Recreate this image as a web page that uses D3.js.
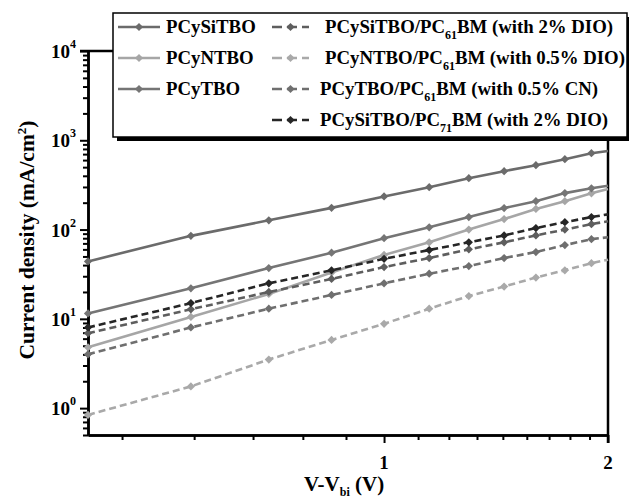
<!DOCTYPE html>
<html>
<head>
<meta charset="utf-8">
<script src="https://cdn.jsdelivr.net/npm/d3@7"></script>
<style>
  html, body { margin: 0; padding: 0; background: #fff; }
  svg { display: block; }
  text { font-family: "Liberation Serif", "Times New Roman", serif; font-weight: bold; fill: #000; }
</style>
</head>
<body>
<svg id="chart" width="629" height="500"></svg>
<script>
// ---------------- data ----------------
const xValues = [0.4, 0.55, 0.7, 0.85, 1.0, 1.15, 1.3, 1.45, 1.6, 1.75, 1.9, 2.0];
const pcySiTBO       = [44, 85, 127, 175, 235, 298, 376, 451, 526, 614, 717, 760];
const pcyNTBO        = [4.8, 10.5, 19, 33, 52, 72, 100, 131, 170, 208, 255, 285];
const pcyTBO         = [11.5, 22, 37, 55, 80, 106, 138, 174, 208, 256, 290, 310];
const pcySiTBO_PC61  = [6.9, 12.8, 20, 28, 38, 48, 60, 72, 86, 100, 115, 124];
const pcyNTBO_PC61   = [0.84, 1.75, 3.5, 5.8, 8.8, 13, 18, 23, 29, 35, 42, 46];
const pcyTBO_PC61    = [4.0, 8.0, 13, 18.5, 25, 32, 39, 48, 56, 67, 78, 82];
const pcySiTBO_PC71  = [8, 15, 25, 35, 47, 59, 72, 86, 104, 121, 138, 148];

const seriesNames = ["PCySiTBO", "PCyNTBO", "PCyTBO",
  "PCySiTBO/PC61BM (with 2% DIO)", "PCyNTBO/PC61BM (with 0.5% DIO)",
  "PCyTBO/PC61BM (with 0.5% CN)", "PCySiTBO/PC71BM (with 2% DIO)"];
const seriesValues = [pcySiTBO, pcyNTBO, pcyTBO, pcySiTBO_PC61, pcyNTBO_PC61, pcyTBO_PC61, pcySiTBO_PC71];
const seriesColors = ["#6b6b6b", "#a6a6a6", "#757575", "#5e5e5e", "#a9a9a9", "#6f6f6f", "#262626"];
const seriesDashed = [false, false, false, true, true, true, true];

const yMajorTicks = [1, 10, 100, 1000, 10000];
const yMajorExp = ["0", "1", "2", "3", "4"];
const xMajorTicks = [1, 2];
const xMajorLabels = ["1", "2"];
const xMinorTicks = [4/9, 5/9, 6/9, 7/9, 8/9, 10/9, 11/9, 12/9, 13/9, 14/9, 15/9, 16/9, 17/9];

// ---------------- layout ----------------
const L = 88, R = 608, T = 51, B = 435;
const svg = d3.select("#chart");

const x = d3.scaleLog().domain([0.4, 2]).range([L, R]);
const y = d3.scaleLog().domain([0.5, 1e4]).range([B, T]);

const yMinorTicks = [];
for (let e = -1; e <= 3; e++) for (let m = 2; m <= 9; m++) {
  const v = m * Math.pow(10, e);
  if (v >= 0.5 && v <= 1e4) yMinorTicks.push(v);
}

// frame (top + right)
svg.append("line").attr("x1", L - 8).attr("x2", R).attr("y1", T).attr("y2", T)
  .attr("stroke", "#000").attr("stroke-width", 2.5);
svg.append("line").attr("x1", R).attr("x2", R).attr("y1", T).attr("y2", B + 8)
  .attr("stroke", "#000").attr("stroke-width", 2.5);

// axes
function styleAxis(g) {
  g.select(".domain").attr("stroke", "#000").attr("stroke-width", 2.5);
  g.selectAll(".tick line").attr("stroke", "#000").attr("stroke-width", 2);
  g.selectAll(".tick text").remove();
}
svg.append("g").attr("transform", `translate(${L},0)`)
  .call(d3.axisLeft(y).tickValues(yMinorTicks).tickSize(5).tickSizeOuter(0).tickFormat(() => ""))
  .call(styleAxis);
svg.append("g").attr("transform", `translate(${L},0)`)
  .call(d3.axisLeft(y).tickValues(yMajorTicks).tickSize(8).tickSizeOuter(0).tickFormat(() => ""))
  .call(styleAxis);
svg.append("g").attr("transform", `translate(0,${B})`)
  .call(d3.axisBottom(x).tickValues(xMinorTicks).tickSize(5).tickSizeOuter(0).tickFormat(() => ""))
  .call(styleAxis);
svg.append("g").attr("transform", `translate(0,${B})`)
  .call(d3.axisBottom(x).tickValues(xMajorTicks).tickSize(8).tickSizeOuter(0).tickFormat(() => ""))
  .call(styleAxis);

// y tick labels (10^n)
yMajorTicks.forEach((v, i) => {
  const t = svg.append("text").attr("x", 76).attr("y", y(v) + 7)
    .attr("text-anchor", "end").attr("font-size", 19);
  t.append("tspan").text("10");
  t.append("tspan").attr("dy", -10).attr("font-size", 12).text(yMajorExp[i]);
});
// x tick labels
xMajorTicks.forEach((v, i) => {
  svg.append("text").attr("x", x(v)).attr("y", 469).attr("text-anchor", "middle")
    .attr("font-size", 19).text(xMajorLabels[i]);
});

// axis titles
const xt = svg.append("text").attr("x", 304).attr("y", 491).attr("font-size", 21);
xt.append("tspan").text("V-V");
xt.append("tspan").attr("dy", 5).attr("font-size", 12).text("bi");
xt.append("tspan").attr("dy", -5).text(" (V)");

const yt = svg.append("text").attr("transform", "translate(34,240) rotate(-90)")
  .attr("text-anchor", "middle").attr("font-size", 21.5);
yt.append("tspan").text("Current density (mA/cm");
yt.append("tspan").attr("dy", -8).attr("font-size", 13).text("2");
yt.append("tspan").attr("dy", 8).text(")");

// series
const line = d3.line().x((d, i) => x(xValues[i])).y(d => y(d));
const marker = d3.symbol().type(d3.symbolSquare).size(34);
const plot = svg.append("g");
seriesValues.forEach((vals, s) => {
  plot.append("path").datum(vals).attr("d", line).attr("fill", "none")
    .attr("stroke", seriesColors[s]).attr("stroke-width", 2.6)
    .attr("stroke-dasharray", seriesDashed[s] ? "7,4" : null);
  plot.selectAll(null).data(vals.slice(0, vals.length - 1)).enter().append("path")
    .attr("d", marker)
    .attr("transform", (d, i) => `translate(${x(xValues[i])},${y(d)}) rotate(45)`)
    .attr("fill", seriesColors[s]);
});

// legend
const lg = svg.append("g");
lg.append("rect").attr("x", 117).attr("y", 17).attr("width", 514).attr("height", 124).attr("fill", "#000");
lg.append("rect").attr("x", 113).attr("y", 13).attr("width", 514).attr("height", 124)
  .attr("fill", "#fff").attr("stroke", "#000").attr("stroke-width", 1.5);

const legendPos = [
  {col: 0, row: 0}, {col: 0, row: 1}, {col: 0, row: 2},
  {col: 1, row: 0}, {col: 1, row: 1}, {col: 1, row: 2}, {col: 1, row: 3}
];
const rowY = [27, 58, 89, 120];
seriesNames.forEach((name, s) => {
  const p = legendPos[s];
  const x0 = p.col === 0 ? 118 : 272;
  const x1 = p.col === 0 ? 160 : 309;
  const tx = p.col === 0 ? 166 : (p.row < 2 ? 325 : 320);
  const yy = rowY[p.row];
  lg.append("line").attr("x1", x0).attr("x2", x1).attr("y1", yy).attr("y2", yy)
    .attr("stroke", seriesColors[s]).attr("stroke-width", 2.6)
    .attr("stroke-dasharray", seriesDashed[s] ? "10,5" : null);
  lg.append("path").attr("d", marker)
    .attr("transform", `translate(${(x0 + x1) / 2},${yy}) rotate(45)`)
    .attr("fill", seriesColors[s]);
  const t = lg.append("text").attr("x", tx).attr("y", yy + 6).attr("font-size", 18.8);
  const m = name.match(/^(.*?PC)(61|71)(BM.*)$/);
  if (m) {
    t.append("tspan").text(m[1]);
    t.append("tspan").attr("dy", 6).attr("font-size", 12).text(m[2]);
    t.append("tspan").attr("dy", -6).text(m[3]);
  } else {
    t.text(name);
  }
});
</script>
</body>
</html>
